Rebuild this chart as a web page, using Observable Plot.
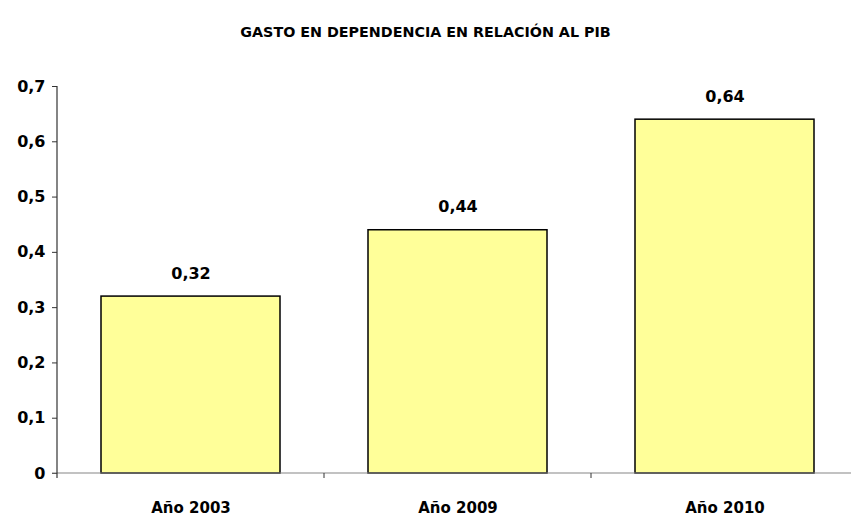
<!DOCTYPE html>
<html>
<head>
<meta charset="utf-8">
<script src="https://cdn.jsdelivr.net/npm/d3@7"></script>
<script src="https://cdn.jsdelivr.net/npm/@observablehq/plot@0.6"></script>
<style>
  html, body { margin: 0; padding: 0; background: #fff; }
  #wrap { width: 851px; height: 517px; position: relative; font-family: "DejaVu Sans", sans-serif; }
  #title { height: 60px; line-height: 65px; text-align: center; font-weight: 700; font-size: 14.3px; letter-spacing: 0px; color: #000; }
</style>
</head>
<body>
<div id="wrap">
  <div id="title">GASTO EN DEPENDENCIA EN RELACIÓN AL PIB</div>
  <div id="chart"></div>
</div>
<script>
const categories = ["Año 2003", "Año 2009", "Año 2010"];
const values = [0.32, 0.44, 0.64];
const yTicks = [0, 0.1, 0.2, 0.3, 0.4, 0.5, 0.6, 0.7];

const data = categories.map((c, i) => ({cat: c, value: values[i]}));
const fmt = d => d === 0 ? "0" : d.toFixed(Math.round(d * 100) % 10 === 0 ? 1 : 2).replace(".", ",");

const W = 851, H = 457;
const PAD_INNER = 0.33;

// axis lines and boundary ticks between categories, computed from the scales
function axisLines(index, scales, values, dims) {
  const x = scales.x, y = scales.y;
  const g = d3.create("svg:g");
  const xs = categories.map(c => x(c));
  const step = xs[1] - xs[0];
  const bw = typeof x.bandwidth === "function" ? x.bandwidth() : step * (1 - PAD_INNER);
  const gap = step - bw;
  const bounds = xs.map(v => v - gap / 2).concat([xs[xs.length - 1] + bw + gap / 2]);
  const y0 = y(0);
  g.append("line").attr("x1", bounds[0] - 5).attr("x2", bounds[bounds.length - 1])
    .attr("y1", y0).attr("y2", y0).attr("stroke", "#868686").attr("stroke-width", 1.2);
  g.append("line").attr("x1", bounds[0]).attr("x2", bounds[0])
    .attr("y1", y(yTicks[yTicks.length - 1])).attr("y2", y0 + 5).attr("stroke", "#333").attr("stroke-width", 1.2);
  for (const b of bounds.slice(1)) {
    g.append("line").attr("x1", b).attr("x2", b).attr("y1", y0).attr("y2", y0 + 5)
      .attr("stroke", "#333").attr("stroke-width", 1);
  }
  return g.node();
}

const chart = Plot.plot({
  width: W,
  height: H,
  marginLeft: 57,
  marginRight: -7,
  marginTop: 26,
  marginBottom: 44,
  style: {fontFamily: "DejaVu Sans, sans-serif", fontWeight: 700, fontSize: "15px", color: "#000"},
  x: {domain: categories, paddingInner: PAD_INNER, paddingOuter: PAD_INNER / 2, label: null},
  y: {domain: [0, 0.7], label: null},
  marks: [
    Plot.axisY({ticks: yTicks, tickFormat: fmt, tickSize: 5, tickPadding: 7, stroke: "#333", fontSize: 16, fontWeight: 700, style: {letterSpacing: "1.5px"}}),
    Plot.axisX({tickSize: 0, tickPadding: 29, fontSize: 15, fontWeight: 700, style: {letterSpacing: "0.6px"}}),
    Plot.barY(data, {x: "cat", y: "value", fill: "#FFFF99", stroke: "#000", strokeWidth: 1.5}),
    Plot.text(data, {x: "cat", y: "value", text: d => fmt(d.value), lineAnchor: "bottom", dy: -18, fontSize: 16, fontWeight: 700, fill: "#000"}),
    axisLines
  ]
});
document.getElementById("chart").appendChild(chart);
</script>
</body>
</html>
